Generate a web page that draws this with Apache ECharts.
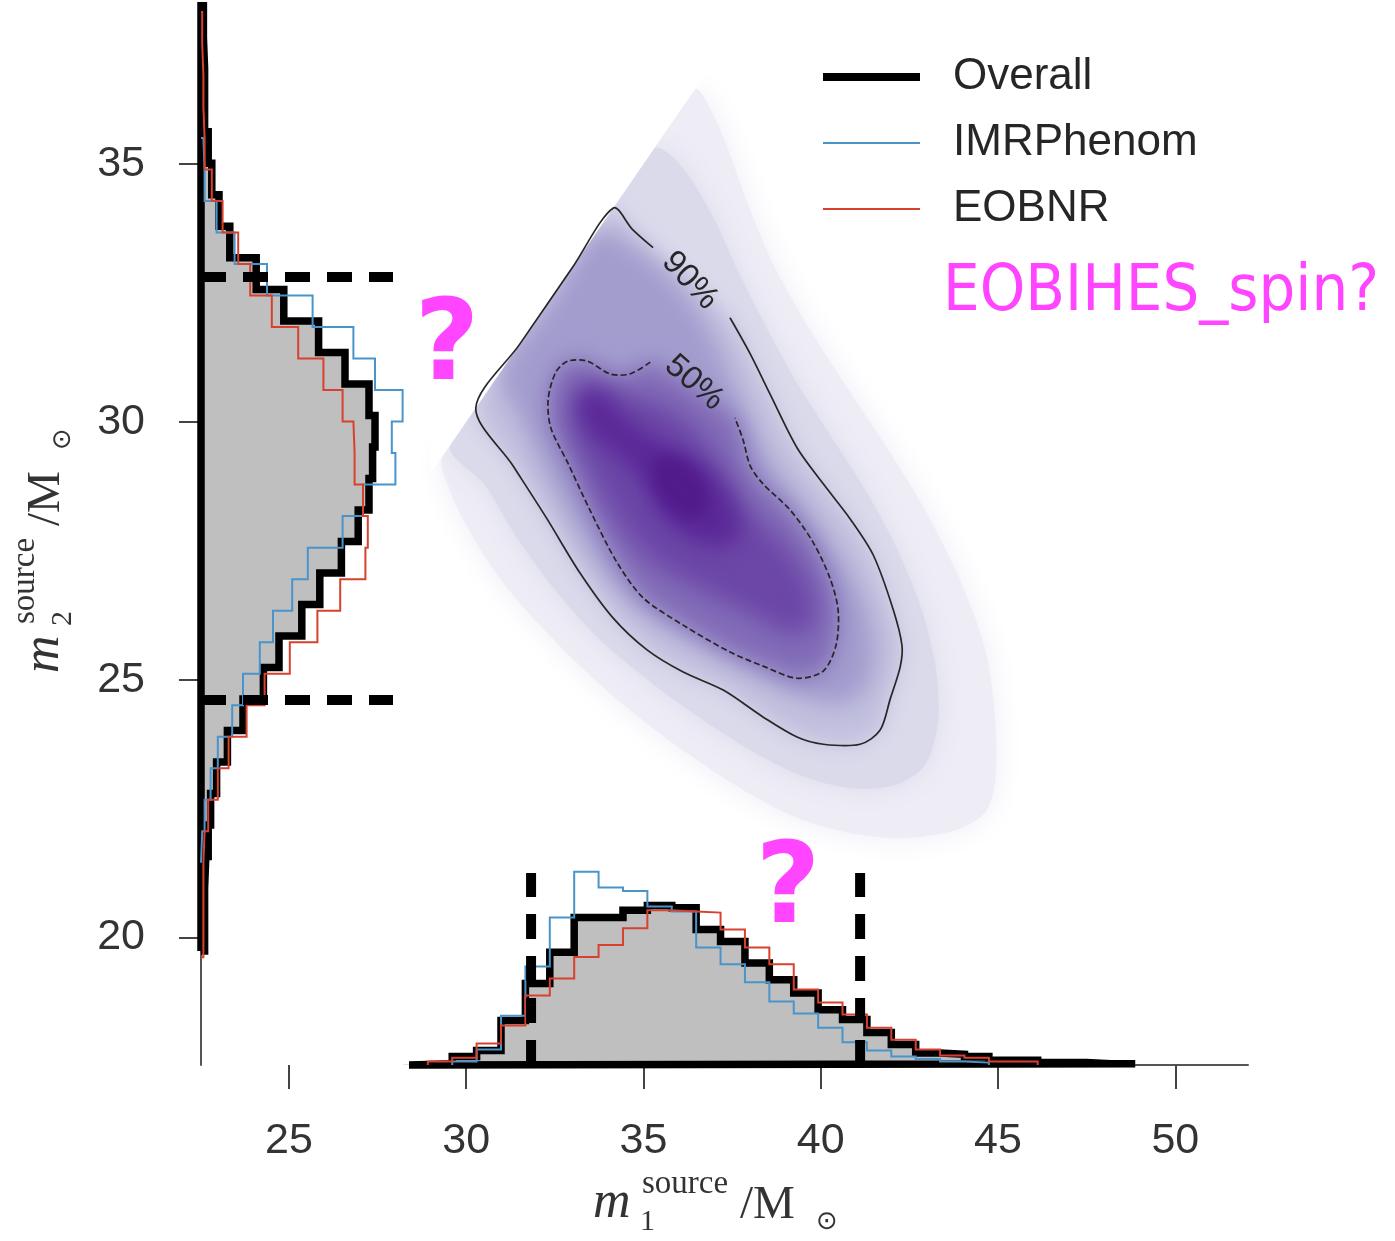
<!DOCTYPE html>
<html>
<head>
<meta charset="utf-8">
<script src="https://cdn.jsdelivr.net/npm/echarts@6/dist/echarts.min.js"></script>
<style>
html, body { margin: 0; padding: 0; background: #ffffff; }
#chart { width: 1395px; height: 1241px; }
</style>
</head>
<body>
<div id="chart"></div>
<script>
// ---------- axes ----------
const m1Range = [22.52, 52.05];
const m2Range = [17.53, 37.95];
const m1Ticks = [25, 30, 35, 40, 45, 50];
const m2Ticks = [20, 25, 30, 35];
const densityTop = 0.16;     // extent of the marginal panels
const densityAxisMax = 0.2;  // room for bars taller than the panel

// ---------- marginal histogram of m1 (probability density per bin) ----------
const m1BinStart = 28.23;
const m1BinWidth = 0.688;
const m1Overall = [0.0004, 0.001, 0.007, 0.012, 0.037, 0.068, 0.094, 0.123, 0.123, 0.129,
                   0.133, 0.131, 0.113, 0.103, 0.085, 0.071, 0.060, 0.046, 0.038, 0.027,
                   0.017, 0.010, 0.009, 0.007, 0.004, 0.004, 0.002, 0.002, 0.001, 0.001];
const m1IMRPhenom = [null, null, 0.003, 0.013, 0.041, 0.082, 0.123, 0.161, 0.148, 0.145,
                     0.132, 0.128, 0.098, 0.084, 0.069, 0.053, 0.043, 0.031, 0.019, 0.012,
                     0.007, 0.005, 0.003, 0.002, null, null, null, null, null, null];
const m1EOBNR = [null, 0.003, 0.006, 0.018, 0.033, 0.058, 0.072, 0.090, 0.100, 0.114,
                 0.129, 0.128, 0.127, 0.113, 0.098, 0.084, 0.063, 0.052, 0.042, 0.031,
                 0.021, 0.013, 0.008, 0.006, 0.003, 0.003, null, null, null, null];

// ---------- marginal histogram of m2 ----------
const m2BinStartOverall = 19.74;
const m2BinStartModels = 19.62;
const m2BinWidth = 0.611;
const m2Overall = [0.003, 0.003, 0.004, 0.006, 0.008, 0.013, 0.022, 0.035, 0.052, 0.065,
                   0.084, 0.099, 0.117, 0.131, 0.140, 0.143, 0.145, 0.140, 0.120, 0.098,
                   0.069, 0.046, 0.024, 0.015, 0.009, 0.006, 0.003, 0.003, 0.002, 0.002];
const m2IMRPhenom = [null, null, null, 0.001, 0.003, 0.008, 0.014, 0.026, 0.035, 0.049,
                     0.060, 0.076, 0.089, 0.118, 0.135, 0.162, 0.159, 0.168, 0.145, 0.127,
                     0.093, 0.055, 0.028, 0.013, 0.003, 0.002, null, null, null, null];
const m2EOBNR = [0.002, 0.002, 0.002, 0.003, 0.006, 0.014, 0.023, 0.038, 0.053, 0.074,
                 0.097, 0.116, 0.137, 0.139, 0.135, 0.128, 0.127, 0.118, 0.102, 0.081,
                 0.059, 0.041, 0.031, 0.018, 0.009, 0.003, 0.002, 0.002, 0.001, 0.001];

// 90% credible bounds of the overall posterior
const m1Interval = [31.83, 41.11];
const m2Interval = [24.61, 32.81];

// ---------- joint density: nested iso-density outlines, outermost first ----------
const kdeOuter = [[36.45,36.45],[36.93,36.01],[37.39,35.28],[37.95,34.21],[38.63,33.10],[39.56,31.94],
  [40.69,30.72],[41.82,29.55],[42.94,28.29],[43.93,26.93],[44.64,25.58],[44.92,24.22],[44.92,23.06],
  [44.64,22.43],[43.79,22.08],[42.24,21.93],[40.69,22.05],[39.14,22.38],[37.72,22.90],[36.31,23.54],
  [34.90,24.26],[33.49,25.09],[32.08,26.06],[30.95,26.97],[30.05,27.94],[29.54,28.68],[29.33,29.33],
  [31.5,31.5],[33.5,33.5],[35.0,35.0]];
const kdeBand1 = [[35.30,35.30],[36.03,34.99],[36.93,34.02],[37.58,33.05],[38.35,31.98],[39.28,30.81],
  [40.26,29.75],[41.25,28.68],[42.10,27.61],[42.80,26.45],[43.23,25.29],[43.31,24.22],[42.94,23.35],
  [42.10,22.96],[40.83,22.90],[39.42,23.15],[38.01,23.64],[36.60,24.26],[35.19,24.96],[33.78,25.77],
  [32.51,26.74],[31.38,27.81],[30.53,28.78],[29.55,29.55],[31.5,31.5],[33.5,33.5]];
const kde90 = [[35.27,33.38],[34.68,33.74],[34.15,34.15],[33.0,33.0],[31.5,31.5],[30.27,30.27],
  [31.32,29.15],[32.28,28.12],[33.21,27.07],[34.14,26.20],[35.10,25.58],[36.12,25.15],[37.25,24.80],
  [38.37,24.28],[39.33,23.89],[40.07,23.75],[41.11,23.75],[41.67,24.02],[41.96,24.63],[42.24,25.25],
  [42.29,25.67],[42.04,26.37],[41.48,27.42],[40.83,28.12],[40.07,28.80],[39.33,29.50],[38.57,30.54],
  [38.01,31.32],[37.44,32.02]];
const kdeBand3 = [[33.7,33.7],[32.3,32.3],[30.93,30.93],[31.52,30.04],[32.31,28.91],[33.21,27.81],
  [34.20,26.84],[35.33,26.16],[36.60,25.67],[38.01,25.15],[39.42,24.67],[40.55,24.51],[41.25,24.80],
  [41.53,25.48],[41.34,26.31],[40.77,27.13],[40.04,27.90],[39.28,28.58],[38.57,29.26],[38.06,29.94],
  [37.58,30.72],[37.02,31.59],[36.31,32.37],[35.47,32.99],[34.62,33.43]];
const kde50 = [[35.19,31.16],[34.62,30.93],[34.06,30.93],[33.41,31.18],[32.87,31.18],[32.53,30.97],
  [32.31,30.43],[32.39,29.88],[32.87,29.20],[33.49,28.29],[34.25,27.28],[34.99,26.59],[36.12,26.06],
  [37.44,25.54],[38.43,25.25],[39.33,25.03],[40.07,25.17],[40.43,25.67],[40.49,26.35],[40.26,26.97],
  [39.78,27.67],[39.14,28.29],[38.37,28.80],[38.01,29.15],[37.81,29.65],[37.58,30.08]];
const kdeInner = [[33.21,30.72],[32.93,30.23],[33.07,29.65],[33.63,28.78],[34.40,27.90],[35.33,27.23],
  [36.60,26.74],[38.01,26.26],[39.14,25.87],[39.76,26.00],[39.84,26.55],[39.42,27.23],[38.71,27.81],
  [37.87,28.39],[37.30,29.07],[36.74,29.65],[36.03,30.14],[35.19,30.43],[34.34,30.58],[33.72,30.76]];
const kdeCore = [[33.35,30.62],[33.15,30.23],[33.49,29.75],[34.20,29.36],[34.90,28.87],[35.47,28.20],
  [36.31,27.71],[37.16,27.56],[37.72,27.81],[37.58,28.39],[37.02,28.97],[36.31,29.36],[35.47,29.65],
  [34.62,30.04],[33.92,30.52]];
const kdePeak = [[35.33,29.30],[35.24,28.91],[35.61,28.39],[36.31,28.10],[36.82,28.25],[36.74,28.78],
  [36.31,29.17],[35.75,29.36]];

// the prior m1 >= m2 leaves no density above the diagonal
const forbiddenRegion = [[29.0, 29.0], [37.4, 37.4], [29.0, 37.4]];

const contourNames = ['90%', '50%'];

// ---------- styling ----------
const COLOR_BLUE = '#4a94cc';
const COLOR_RED = '#d8412f';
const COLOR_FILL = '#bfbfbf';
// soft: the whole shape is rendered blurred (through its shadow); otherwise only a soft rim
const densityLayers = [
  { pts: kdeOuter, fill: '#eeedf6', blur: 30 },
  { pts: kdeBand1, fill: '#dbdaeb', blur: 24 },
  { pts: kde90,    fill: '#c2c0de', blur: 20, soft: true },
  { pts: kdeBand3, fill: '#a39dce', blur: 22, soft: true },
  { pts: kde50,    fill: '#836db8', blur: 22, soft: true },
  { pts: kdeInner, fill: '#6c47a7', blur: 24, soft: true },
  { pts: kdeCore,  fill: '#5c2a99', blur: 20, soft: true },
  { pts: kdePeak,  fill: '#521c8d', blur: 14, soft: true }
];
const SHADOW_SHIFT = 4000;

// Step outline of a histogram; optionally closed back along the baseline.
function stepOutline(start, width, heights, closed) {
  let first = 0; while (heights[first] == null) first++;
  let last = heights.length - 1; while (heights[last] == null) last--;
  const pts = [[start + first * width, 0]];
  for (let k = first; k <= last; k++) {
    const lo = start + k * width;
    pts.push([lo, heights[k]], [lo + width, heights[k]]);
  }
  pts.push([start + (last + 1) * width, 0]);
  if (closed) pts.push(pts[0].slice());
  return pts;
}
const swap = pts => pts.map(p => [p[1], p[0]]);

const m1OverallPts = stepOutline(m1BinStart, m1BinWidth, m1Overall, true);
const m1IMRPts = stepOutline(m1BinStart, m1BinWidth, m1IMRPhenom, false);
const m1EOBPts = stepOutline(m1BinStart, m1BinWidth, m1EOBNR, false);
const m2OverallPts = swap(stepOutline(m2BinStartOverall, m2BinWidth, m2Overall, true));
const m2IMRPts = swap(stepOutline(m2BinStartModels, m2BinWidth, m2IMRPhenom, false));
const m2EOBPts = swap(stepOutline(m2BinStartModels, m2BinWidth, m2EOBNR, false));

function polygonSeries(points, xi, yi, style, z) {
  return {
    type: 'custom', xAxisIndex: xi, yAxisIndex: yi, silent: true, z: z, clip: false,
    data: points,
    renderItem: (params, api) => {
      if (params.dataIndex !== 0) return null;
      const shift = style.shift || 0;
      return {
        type: 'polygon',
        shape: {
          points: points.map(p => { const c = api.coord(p); return [c[0] - shift, c[1]]; }),
          smooth: style.smooth || 0
        },
        style: style.style
      };
    }
  };
}

function lineSeries(name, points, xi, yi, color, width, z) {
  return {
    name: name, type: 'line', xAxisIndex: xi, yAxisIndex: yi, data: points,
    symbol: 'none', showSymbol: false, clip: false, silent: true, z: z,
    lineStyle: { color: color, width: width, cap: 'butt', join: 'miter' },
    itemStyle: { color: color }
  };
}

function dashedSeries(points, xi, yi) {
  return {
    type: 'line', xAxisIndex: xi, yAxisIndex: yi, data: points, symbol: 'none',
    clip: false, silent: true, z: 8,
    lineStyle: { color: '#000', width: 10, type: [25, 17], cap: 'butt' }
  };
}

function contourSeries(points, labelText, labelAt, angle, dash) {
  return {
    type: 'custom', xAxisIndex: 0, yAxisIndex: 0, silent: true, z: 5,
    data: points,
    renderItem: (params, api) => {
      if (params.dataIndex !== 0) return null;
      const c = api.coord(labelAt);
      return {
        type: 'group',
        children: [
          { type: 'polyline',
            shape: { points: points.map(p => api.coord(p)), smooth: 0.3 },
            style: { stroke: '#262626', lineWidth: 1.7, fill: null, lineDash: dash } },
          { type: 'text', x: c[0], y: c[1], rotation: angle * Math.PI / 180,
            style: { text: labelText, fontSize: 33, fontFamily: 'Liberation Sans',
                     fill: '#262626', align: 'center', verticalAlign: 'middle' } }
        ]
      };
    }
  };
}

const series = [];
densityLayers.forEach(L => {
  const shift = L.soft ? SHADOW_SHIFT : 0;
  series.push(polygonSeries(L.pts, 0, 0, {
    smooth: 0.3, shift: shift,
    style: { fill: L.fill, shadowBlur: L.blur, shadowColor: L.fill, shadowOffsetX: shift }
  }, 1));
});
series.push(polygonSeries(forbiddenRegion, 0, 0, { style: { fill: '#ffffff' } }, 1));
series.push(contourSeries(kde90, contourNames[0], [36.31, 32.74], -47, null));
series.push(contourSeries(kde50, contourNames[1], [36.43, 30.76], -41, [6, 3]));

// bottom marginal (m1)
series.push(polygonSeries(m1OverallPts, 1, 1, { style: { fill: COLOR_FILL } }, 2));
series.push(lineSeries('Overall', m1OverallPts, 1, 1, '#000000', 7.5, 3));
series.push(lineSeries('IMRPhenom', m1IMRPts, 1, 1, COLOR_BLUE, 2, 4));
series.push(lineSeries('EOBNR', m1EOBPts, 1, 1, COLOR_RED, 2, 5));
m1Interval.forEach(v => series.push(dashedSeries([[v, 0], [v, densityTop]], 1, 1)));

// left marginal (m2)
series.push(polygonSeries(m2OverallPts, 2, 2, { style: { fill: COLOR_FILL } }, 2));
series.push(lineSeries('Overall', m2OverallPts, 2, 2, '#000000', 7.5, 3));
series.push(lineSeries('IMRPhenom', m2IMRPts, 2, 2, COLOR_BLUE, 2, 4));
series.push(lineSeries('EOBNR', m2EOBPts, 2, 2, COLOR_RED, 2, 5));
m2Interval.forEach(v => series.push(dashedSeries([[0, v], [densityTop, v]], 2, 2)));

// axis title m^source / M_sun, laid out from the left end of the "m" baseline
function massTitle(sub, x, y, rotation) {
  const serif = 'Liberation Serif';
  const t = (text, lx, ly, size, extra) => ({
    type: 'text', x: lx, y: ly,
    style: Object.assign({ text: text, fontSize: size, fontFamily: serif, fill: '#333',
                           verticalAlign: 'middle' }, extra || {})
  });
  return {
    type: 'group', x: x, y: y, rotation: rotation, silent: true, z: 100,
    children: [
      t('m', 0, -16, 52, { fontStyle: 'italic' }),
      t('source', 49, -35, 33),
      t(sub, 47, 3, 30),
      t('/M', 147, -13, 47),
      t('\u2299', 223, 3, 26, { fontFamily: 'DejaVu Sans' })
    ]
  };
}

const axisTickStyle = { color: '#444', width: 2 };
const labelStyle = { fontSize: 43, color: '#333', fontFamily: 'Liberation Sans' };
const densityPx = 1200; // pixels per unit density in both marginal panels
const NOTE_COLOR = '#ff45ff';

const option = {
  animation: false,
  backgroundColor: '#ffffff',
  grid: [
    { left: 201, right: 147, top: 12, bottom: 176 },
    { left: 413, right: 147, top: 1065 - densityAxisMax * densityPx, bottom: 176 },
    { left: 201, width: densityAxisMax * densityPx, top: 12, bottom: 176 }
  ],
  xAxis: [
    { gridIndex: 0, type: 'value', min: m1Range[0], max: m1Range[1],
      axisLine: { show: false }, splitLine: { show: false },
      axisTick: { show: true, length: 24, lineStyle: axisTickStyle, customValues: m1Ticks },
      axisLabel: Object.assign({ margin: 55, customValues: m1Ticks }, labelStyle) },
    { gridIndex: 1, type: 'value', min: 28.5, max: m1Range[1],
      axisLine: { show: true, lineStyle: { color: '#555', width: 2 } },
      axisTick: { show: false }, axisLabel: { show: false }, splitLine: { show: false } },
    { gridIndex: 2, type: 'value', min: 0, max: densityAxisMax, show: false, splitLine: { show: false } }
  ],
  yAxis: [
    { gridIndex: 0, type: 'value', min: m2Range[0], max: m2Range[1],
      axisLine: { show: true, lineStyle: { color: '#555', width: 2 } }, splitLine: { show: false },
      axisTick: { show: true, length: 22, lineStyle: axisTickStyle, customValues: m2Ticks },
      axisLabel: Object.assign({ margin: 56, customValues: m2Ticks }, labelStyle) },
    { gridIndex: 1, type: 'value', min: 0, max: densityAxisMax, show: false, splitLine: { show: false } },
    { gridIndex: 2, type: 'value', min: m2Range[0], max: m2Range[1], show: false, splitLine: { show: false } }
  ],
  legend: {
    data: [
      { name: 'Overall', icon: 'path://M0,0H100V8H0Z' },
      { name: 'IMRPhenom', icon: 'path://M0,0H100V2H0Z' },
      { name: 'EOBNR', icon: 'path://M0,0H100V2H0Z' }
    ],
    orient: 'vertical', left: 818, top: 47,
    itemWidth: 97, itemHeight: 30, itemGap: 16,
    symbolKeepAspect: true,
    selectedMode: false,
    textStyle: { fontSize: 44, color: '#262626', fontFamily: 'Liberation Sans',
                 lineHeight: 50, padding: [0, 0, 0, 28] }
  },
  series: series,
  graphic: [
    massTitle('1', 593, 1219, 0),
    massTitle('2', 60, 673, Math.PI / 2),
    { type: 'text', x: 943, y: 293, scaleY: 1.1, silent: true, z: 100,
      style: { text: 'EOBIHES_spin?', fontSize: 58, fontFamily: 'DejaVu Sans',
               fill: NOTE_COLOR, verticalAlign: 'middle' } },
    { type: 'text', x: 447, y: 350, silent: true, z: 100,
      style: { text: '?', fontSize: 112, fontWeight: 'bold', fontFamily: 'DejaVu Sans',
               fill: NOTE_COLOR, align: 'center', verticalAlign: 'middle' } },
    { type: 'text', x: 788, y: 893, silent: true, z: 100,
      style: { text: '?', fontSize: 112, fontWeight: 'bold', fontFamily: 'DejaVu Sans',
               fill: NOTE_COLOR, align: 'center', verticalAlign: 'middle' } }
  ]
};

const chart = echarts.init(document.getElementById('chart'), null, { renderer: 'canvas' });
chart.setOption(option);
</script>
</body>
</html>
